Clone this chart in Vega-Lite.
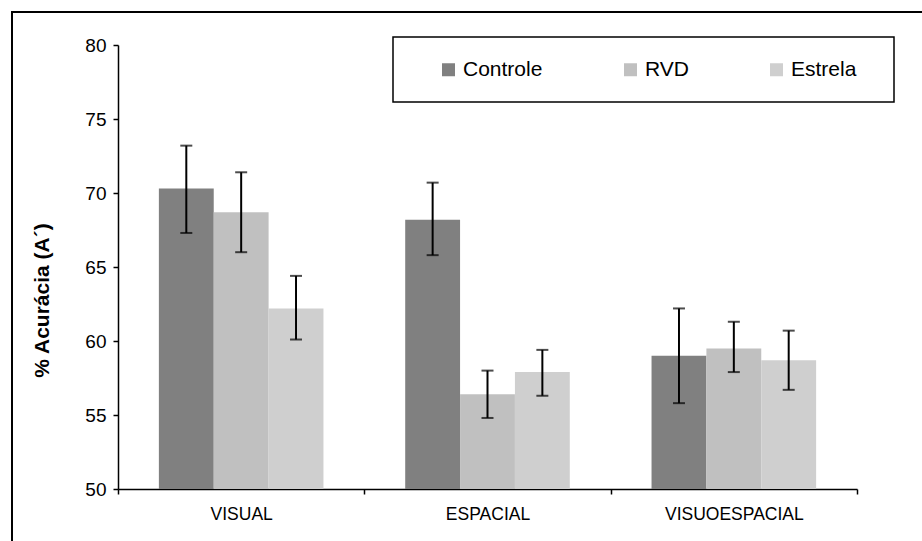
{
  "$schema": "https://vega.github.io/schema/vega-lite/v6.json",
  "autosize": {"type": "none"},
  "padding": {"left": 12, "top": 12, "right": 0, "bottom": 0},
  "width": 915,
  "height": 535,
  "background": "white",
  "config": {
    "view": {"stroke": "black", "strokeWidth": 2},
    "font": "Liberation Sans"
  },
  "data": {
    "values": [
      {"group": "VISUAL", "series": "Controle", "value": 70.3, "lo": 67.3, "hi": 73.2},
      {"group": "VISUAL", "series": "RVD", "value": 68.7, "lo": 66.0, "hi": 71.4},
      {"group": "VISUAL", "series": "Estrela", "value": 62.2, "lo": 60.1, "hi": 64.4},
      {"group": "ESPACIAL", "series": "Controle", "value": 68.2, "lo": 65.8, "hi": 70.7},
      {"group": "ESPACIAL", "series": "RVD", "value": 56.4, "lo": 54.8, "hi": 58.0},
      {"group": "ESPACIAL", "series": "Estrela", "value": 57.9, "lo": 56.3, "hi": 59.4},
      {"group": "VISUOESPACIAL", "series": "Controle", "value": 59.0, "lo": 55.8, "hi": 62.2},
      {"group": "VISUOESPACIAL", "series": "RVD", "value": 59.5, "lo": 57.9, "hi": 61.3},
      {"group": "VISUOESPACIAL", "series": "Estrela", "value": 58.7, "lo": 56.7, "hi": 60.7}
    ]
  },
  "encoding": {
    "x": {
      "field": "group",
      "type": "nominal",
      "sort": ["VISUAL", "ESPACIAL", "VISUOESPACIAL"],
      "scale": {"range": [106, 845], "paddingInner": 0, "paddingOuter": 0},
      "axis": {
        "title": null,
        "offset": -58,
        "labelAngle": 0,
        "tickBand": "extent",
        "domainColor": "black",
        "domainWidth": 1.5,
        "tickColor": "black",
        "tickWidth": 1.5,
        "tickSize": 5,
        "labelFontSize": 17.5,
        "labelColor": "black",
        "labelPadding": 11,
        "grid": false
      }
    },
    "xOffset": {
      "field": "series",
      "type": "nominal",
      "sort": ["Controle", "RVD", "Estrela"],
      "scale": {"paddingInner": 0, "paddingOuter": 0.745}
    }
  },
  "layer": [
    {
      "mark": {"type": "bar"},
      "encoding": {
        "y": {
          "field": "value",
          "type": "quantitative",
          "scale": {"domain": [50, 80], "range": [477, 33], "nice": false, "zero": false},
          "axis": {
            "values": [50, 55, 60, 65, 70, 75, 80],
            "offset": -106,
            "title": "% Acurácia (A´)",
            "titleFontSize": 21,
            "titleFontWeight": "bold",
            "titleColor": "black",
            "titleX": -76,
            "titleY": 288,
            "titleBaseline": "middle",
            "domainColor": "black",
            "domainWidth": 1.5,
            "tickColor": "black",
            "tickWidth": 1.5,
            "tickSize": 5,
            "labelFontSize": 19,
            "labelColor": "black",
            "labelPadding": 7,
            "grid": false
          }
        },
        "y2": {"datum": 50},
        "color": {
          "field": "series",
          "type": "nominal",
          "sort": ["Controle", "RVD", "Estrela"],
          "scale": {"domain": ["Controle", "RVD", "Estrela"], "range": ["#808080", "#c0c0c0", "#cfcfcf"]},
          "legend": {
            "orient": "none",
            "legendX": 381,
            "legendY": 25,
            "direction": "horizontal",
            "title": " ",
            "titleOrient": "left",
            "titleFontSize": 4,
            "titlePadding": 23,
            "padding": 22,
            "strokeColor": "black",
            "fillColor": "white",
            "symbolType": "square",
            "symbolSize": 169,
            "symbolStrokeWidth": 0,
            "symbolOpacity": 1,
            "labelFontSize": 21,
            "labelColor": "black",
            "labelOffset": 4,
            "columnPadding": 77,
            "labelExpr": "datum.value == 'Estrela' ? 'Estrela\u2800' : datum.label",
            "encode": {"legend": {"update": {"strokeWidth": {"value": 1.5}}}}
          }
        }
      }
    },
    {
      "mark": {"type": "rule", "color": "black", "strokeWidth": 2},
      "encoding": {
        "y": {"field": "lo", "type": "quantitative"},
        "y2": {"field": "hi"}
      }
    },
    {
      "mark": {"type": "tick", "color": "black", "thickness": 2, "size": 12},
      "encoding": {
        "y": {"field": "hi", "type": "quantitative"}
      }
    },
    {
      "mark": {"type": "tick", "color": "black", "thickness": 2, "size": 12},
      "encoding": {
        "y": {"field": "lo", "type": "quantitative"}
      }
    }
  ]
}
